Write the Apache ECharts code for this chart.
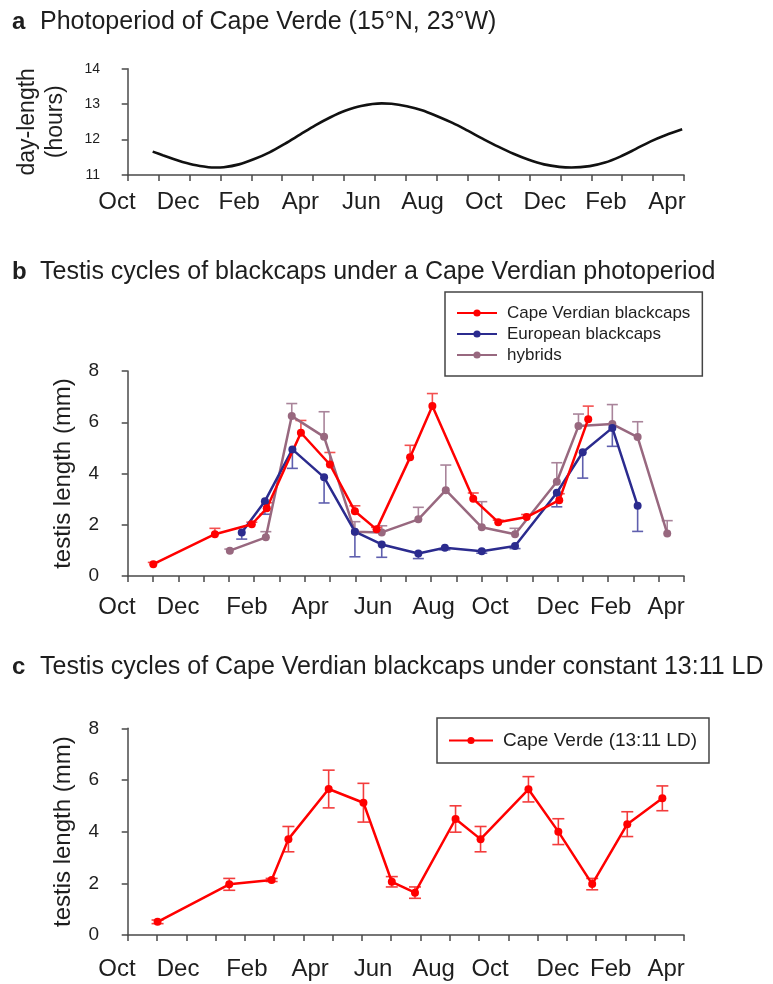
<!DOCTYPE html>
<html>
<head>
<meta charset="utf-8">
<script src="https://cdn.jsdelivr.net/npm/echarts@6/dist/echarts.min.js"></script>
<style>
  html, body { margin: 0; padding: 0; background: #fff; }
  #chart { width: 773px; height: 984px; }
</style>
</head>
<body>
<div id="chart"></div>
<script>
// Month labels shared by the three time axes (Oct of year 1 to Apr of year 3)
const monthLabels = ['Oct', 'Dec', 'Feb', 'Apr', 'Jun', 'Aug', 'Oct', 'Dec', 'Feb', 'Apr'];
// label positions in month units: evenly spaced on the photoperiod axis,
// slightly irregular on the two testis axes
const monthPosA  = [0, 2, 4, 6, 8, 10, 12, 14, 16, 18];
const monthPosBC = [0, 2.0, 4.25, 6.32, 8.38, 10.36, 12.21, 14.43, 16.16, 17.97];

// Panel a: day-length at Cape Verde, month position (0 = first Oct label) vs hours
const dayMonth = [1.17, 1.5, 2.0, 2.5, 3.0, 3.22, 3.5, 4.0, 4.5, 5.0, 5.5, 6.0, 6.5, 7.0, 7.5, 8.0, 8.68,
                  9.0, 9.5, 10.0, 10.5, 11.0, 11.5, 12.0, 12.5, 13.0, 13.5, 14.0, 14.5, 14.9,
                  15.5, 16.0, 16.5, 17.0, 17.5, 18.0, 18.53];
const dayHours = [11.66, 11.56, 11.41, 11.29, 11.22, 11.21, 11.22, 11.30, 11.45, 11.64, 11.88, 12.14, 12.40, 12.63, 12.82, 12.95, 13.02,
                  13.01, 12.94, 12.83, 12.66, 12.47, 12.25, 12.02, 11.80, 11.60, 11.43, 11.30, 11.23, 11.21,
                  11.25, 11.35, 11.52, 11.73, 11.95, 12.13, 12.29];

// Panel b: testis length (mm) under Cape Verdian photoperiod
const cvMonth  = [1.19, 3.21, 4.42, 4.91, 6.03, 6.98, 7.80, 8.51, 9.61, 10.34, 11.68, 12.50, 13.43, 14.50, 15.45];
const cvTestis = [0.46, 1.63, 2.02, 2.64, 5.59, 4.35, 2.53, 1.82, 4.63, 6.63, 3.01, 2.10, 2.30, 2.96, 6.12];
const cvErr    = [0.07, 0.23, 0.08, 0.22, 0.48, 0.47, 0.21, 0.08, 0.47, 0.49, 0.23, 0.08, 0.10, 0.25, 0.51];

const euMonth  = [4.09, 4.85, 5.75, 6.79, 7.80, 8.68, 9.88, 10.75, 11.96, 13.05, 14.42, 15.27, 16.24, 17.07];
const euTestis = [1.70, 2.92, 4.94, 3.85, 1.73, 1.23, 0.88, 1.10, 0.97, 1.17, 3.25, 4.83, 5.78, 2.74];
const euErr    = [0.26, 0.51, 0.74, 1.00, 0.98, 0.50, 0.20, 0.08, 0.08, 0.10, 0.55, 1.01, 0.72, 1.00];

const hyMonth  = [3.70, 4.88, 5.73, 6.79, 7.80, 8.68, 9.88, 10.78, 11.96, 13.05, 14.42, 15.13, 16.24, 17.07, 18.04];
const hyTestis = [0.99, 1.51, 6.24, 5.43, 1.73, 1.70, 2.21, 3.35, 1.90, 1.63, 3.68, 5.85, 5.93, 5.42, 1.66];
const hyErr    = [0.06, 0.22, 0.49, 0.98, 0.39, 0.26, 0.47, 0.98, 1.00, 0.23, 0.74, 0.47, 0.76, 0.60, 0.50];

// Panel c: Cape Verdian birds under constant 13:11 LD
const ldMonth  = [1.33, 3.68, 5.07, 5.62, 6.94, 8.08, 9.01, 9.77, 11.10, 11.92, 13.49, 14.47, 15.58, 16.73, 17.88];
const ldTestis = [0.51, 1.96, 2.13, 3.71, 5.65, 5.12, 2.06, 1.64, 4.49, 3.71, 5.64, 4.00, 1.97, 4.29, 5.29];
const ldErr    = [0.07, 0.23, 0.06, 0.49, 0.73, 0.75, 0.20, 0.22, 0.51, 0.49, 0.49, 0.50, 0.22, 0.48, 0.48];

const FONT = "'Liberation Sans', Arial, Helvetica, sans-serif";
const INK = '#1e1e1e';
const AXIS = '#4a4a4a';
const RED = '#ff0000', BLUE = '#2b2b8e', HYB = '#98687f';

// month range covered by the drawn x-axis line
const M_MIN = 0.351, M_MAX = 18.59;

const zip = (xs, ys, es) => xs.map((x, i) => es ? [x, ys[i], es[i]] : [x, ys[i]]);

// vertical error bars; dir: 1 = upward only, -1 = downward only, 0 = both
function errorBar(color, capHalf, dir) {
  return function (params, api) {
    const x = api.value(0), y = api.value(1), e = api.value(2);
    const hi = dir < 0 ? y : y + e;
    const lo = dir > 0 ? y : y - e;
    const pHi = api.coord([x, hi]);
    const pLo = api.coord([x, lo]);
    const st = { stroke: color, lineWidth: 1.6 };
    const kids = [{ type: 'line', shape: { x1: pHi[0], y1: pHi[1], x2: pLo[0], y2: pLo[1] }, style: st }];
    if (dir >= 0) kids.push({ type: 'line', shape: { x1: pHi[0] - capHalf, y1: pHi[1], x2: pHi[0] + capHalf, y2: pHi[1] }, style: st });
    if (dir <= 0) kids.push({ type: 'line', shape: { x1: pLo[0] - capHalf, y1: pLo[1], x2: pLo[0] + capHalf, y2: pLo[1] }, style: st });
    return { type: 'group', children: kids };
  };
}

function tickAxis(grid, n) {
  return {
    type: 'value', gridIndex: grid, min: 0, max: n, interval: 1, position: 'bottom',
    axisLine: { show: true, onZero: false, lineStyle: { color: AXIS, width: 1.5 } },
    axisTick: { show: true, inside: false, length: 6, lineStyle: { color: AXIS, width: 1.5 } },
    axisLabel: { show: false }, splitLine: { show: false }
  };
}
function monthAxis(grid) {
  return { type: 'value', gridIndex: grid, min: M_MIN, max: M_MAX, show: false, splitLine: { show: false } };
}
function nearestLabel(positions, v) {
  let best = 0;
  positions.forEach((p, i) => { if (Math.abs(p - v) < Math.abs(positions[best] - v)) best = i; });
  return monthLabels[best];
}
function labelAxis(grid, margin, positions) {
  return {
    type: 'value', gridIndex: grid, min: 0, max: 18, interval: 2, position: 'bottom',
    axisLine: { show: false }, axisTick: { show: false }, splitLine: { show: false },
    axisLabel: {
      show: true, margin: margin, fontFamily: FONT, fontSize: 24, color: INK,
      showMinLabel: true, showMaxLabel: true, customValues: positions,
      formatter: v => nearestLabel(positions, v)
    }
  };
}
function valueAxis(grid, min, max, interval, fontSize, name, nameGap, nameSize, lineH, offset) {
  return {
    type: 'value', gridIndex: grid, min: min, max: max, interval: interval, offset: offset,
    axisLine: { show: true, lineStyle: { color: AXIS, width: 1.5 } },
    axisTick: { show: true, length: 6, lineStyle: { color: AXIS, width: 1.5 } },
    axisLabel: { fontFamily: FONT, fontSize: fontSize, color: INK, margin: 14 },
    splitLine: { show: false },
    name: name, nameLocation: 'middle', nameRotate: 90, nameGap: nameGap,
    nameTextStyle: { fontFamily: FONT, fontSize: nameSize, color: INK, lineHeight: lineH }
  };
}
function hiddenY(grid) {
  return { type: 'value', gridIndex: grid, min: 0, max: 1, show: false, splitLine: { show: false } };
}
function lineSeries(name, x, y, data, color) {
  return {
    name: name, type: 'line', xAxisIndex: x, yAxisIndex: y, data: data,
    symbol: 'circle', symbolSize: 8, showSymbol: true,
    lineStyle: { color: color, width: 2.5 }, itemStyle: { color: color },
    emphasis: { disabled: true }, z: 3
  };
}
function barSeries(x, y, data, color, cap, dir) {
  return {
    type: 'custom', xAxisIndex: x, yAxisIndex: y, data: data,
    renderItem: errorBar(color, cap, dir), encode: { x: 0, y: 1 }, z: 2, silent: true
  };
}

const titleRich = {
  k: { fontFamily: FONT, fontSize: 24, fontWeight: 'bold', color: INK, width: 28 },
  t: { fontFamily: FONT, fontSize: 25, fontWeight: 'normal', color: INK }
};
function panelTitle(letter, text, top) {
  return { left: 7, top: top, text: '{k|' + letter + '}{t|' + text + '}', textStyle: { rich: titleRich } };
}

const legendBase = {
  orient: 'vertical', borderColor: '#444', borderWidth: 1.5, backgroundColor: '#fff',
  itemHeight: 9, itemGap: 3, selectedMode: false,
  textStyle: { fontFamily: FONT, color: INK, padding: [0, 0, 0, 5] }
};

const option = {
  animation: false,
  backgroundColor: '#ffffff',
  title: [
    panelTitle('a', 'Photoperiod of Cape Verde (15°N, 23°W)', 5),
    panelTitle('b', 'Testis cycles of blackcaps under a Cape Verdian photoperiod', 255),
    panelTitle('c', 'Testis cycles of Cape Verdian blackcaps under constant 13:11 LD', 650)
  ],
  legend: [
    Object.assign({}, legendBase, {
      left: 445, top: 292, padding: [12, 12, 12, 11], itemWidth: 40,
      textStyle: Object.assign({}, legendBase.textStyle, { fontSize: 17, lineHeight: 18 }),
      data: ['Cape Verdian blackcaps', 'European blackcaps', 'hybrids']
    }),
    Object.assign({}, legendBase, {
      left: 437, top: 718, padding: [13, 12, 13, 11], itemWidth: 44,
      textStyle: Object.assign({}, legendBase.textStyle, { fontSize: 19, lineHeight: 18 }),
      data: ['Cape Verde (13:11 LD)']
    })
  ],
  grid: [
    { left: 127.7, right: 89, top: 68.7, height: 106.3 },
    { left: 117, right: 106, top: 174, height: 1 },
    { left: 127.7, right: 89, top: 371, height: 205 },
    { left: 117, right: 106, top: 576, height: 1 },
    { left: 127.7, right: 89, top: 728.3, height: 206.7 },
    { left: 117, right: 106, top: 935, height: 1 }
  ],
  xAxis: [
    tickAxis(0, 18), monthAxis(0), labelAxis(1, 15, monthPosA),
    tickAxis(2, 22), monthAxis(2), labelAxis(3, 18, monthPosBC),
    tickAxis(4, 19), monthAxis(4), labelAxis(5, 21, monthPosBC)
  ],
  yAxis: [
    valueAxis(0, 11, 14, 1, 14, 'day-length\n(hours)', 44, 23, 28, 13.7), hiddenY(1),
    valueAxis(2, 0, 8, 2, 19, 'testis length (mm)', 36, 24, 28, 14.7), hiddenY(3),
    valueAxis(4, 0, 8, 2, 19, 'testis length (mm)', 36, 24, 28, 14.7), hiddenY(5)
  ],
  series: [
    {
      type: 'line', xAxisIndex: 1, yAxisIndex: 0, data: zip(dayMonth, dayHours),
      showSymbol: false, smooth: 0.35, lineStyle: { color: '#111', width: 2.6 }, silent: true
    },
    barSeries(4, 2, zip(hyMonth, hyTestis, hyErr), '#a9849a', 5.5, 1),
    barSeries(4, 2, zip(euMonth, euTestis, euErr), '#5f5fae', 5.5, -1),
    barSeries(4, 2, zip(cvMonth, cvTestis, cvErr), '#f35050', 5.5, 1),
    lineSeries('hybrids', 4, 2, zip(hyMonth, hyTestis), HYB),
    lineSeries('European blackcaps', 4, 2, zip(euMonth, euTestis), BLUE),
    lineSeries('Cape Verdian blackcaps', 4, 2, zip(cvMonth, cvTestis), RED),
    barSeries(7, 4, zip(ldMonth, ldTestis, ldErr), '#f33c3c', 6, 0),
    lineSeries('Cape Verde (13:11 LD)', 7, 4, zip(ldMonth, ldTestis), RED)
  ]
};

const chart = echarts.init(document.getElementById('chart'), null, { renderer: 'canvas' });
chart.setOption(option);
</script>
</body>
</html>
